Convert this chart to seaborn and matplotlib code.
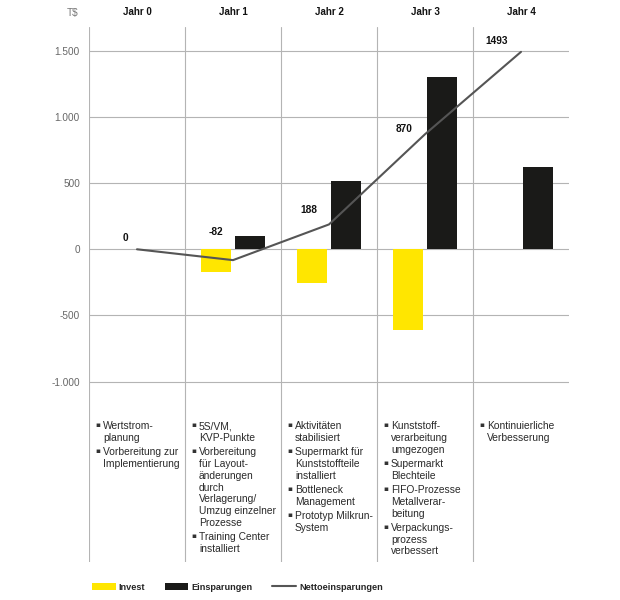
import numpy as np
import pandas as pd
import matplotlib
matplotlib.use("Agg")
import matplotlib.pyplot as plt
from matplotlib.patches import Patch
from matplotlib.lines import Line2D
import seaborn as sns

# ---------------- data ----------------
jahre = ["Jahr 0", "Jahr 1", "Jahr 2", "Jahr 3", "Jahr 4"]
invest = [np.nan, -172, -256, -611, np.nan]
einsparungen = [np.nan, 100, 517, 1300, 625]
netto = [0, -82, 188, 870, 1493]
netto_labels = ["0", "-82", "188", "870", "1493"]
y_ticks = [-1000, -500, 0, 500, 1000, 1500]
y_tick_labels = ["-1.000", "-500", "0", "500", "1.000", "1.500"]
einheit = "T$"
serien = ["Invest", "Einsparungen"]
linie_name = "Nettoeinsparungen"
massnahmen = [
    [["Wertstrom-", "planung"], ["Vorbereitung zur", "Implementierung"]],
    [["5S/VM,", "KVP-Punkte"],
     ["Vorbereitung", "für Layout-", "änderungen", "durch", "Verlagerung/",
      "Umzug einzelner", "Prozesse"],
     ["Training Center", "installiert"]],
    [["Aktivitäten", "stabilisiert"],
     ["Supermarkt für", "Kunststoffteile", "installiert"],
     ["Bottleneck", "Management"],
     ["Prototyp Milkrun-", "System"]],
    [["Kunststoff-", "verarbeitung", "umgezogen"],
     ["Supermarkt", "Blechteile"],
     ["FIFO-Prozesse", "Metallverar-", "beitung"],
     ["Verpackungs-", "prozess", "verbessert"]],
    [["Kontinuierliche", "Verbesserung"]],
]

# ---------------- style ----------------
sns.set_style("white")
plt.rcParams["font.family"] = ["Liberation Sans", "DejaVu Sans"]

YELLOW = "#FFE600"
BLACK = "#1A1A18"
LINE = "#555555"
GRID = "#b4b4b4"

df = pd.DataFrame({
    "Jahr": jahre * 2,
    "Typ": [serien[0]] * len(jahre) + [serien[1]] * len(jahre),
    "Wert": invest + einsparungen,
}).dropna()

W, H = 620, 600
fig = plt.figure(figsize=(6.2, 6.0), dpi=100)
ax = fig.add_axes([89 / W, 38 / H, 480 / W, 535 / H])

sns.barplot(data=df, x="Jahr", y="Wert", hue="Typ", order=jahre,
            hue_order=serien, palette=[YELLOW, BLACK], width=0.7, gap=0.1,
            saturation=1, legend=False, ax=ax, zorder=3, linewidth=0)

sns.lineplot(x=np.arange(len(jahre)), y=netto, color=LINE, linewidth=1.5,
             estimator=None, sort=False, ax=ax, zorder=4)

label_offsets = [(-8.6, 7.9), (-12, 20), (-14.4, 10.4), (-15, 3.8), (-17.3, 8)]
for i, (v, lab) in enumerate(zip(netto, netto_labels)):
    ax.annotate(lab, (i, v), xytext=label_offsets[i], textcoords="offset points",
                ha="center", va="center", fontsize=7.3, fontweight="bold",
                color="#111111", zorder=5)

ax.set_xlim(-0.5, 4.5)
ax.set_ylim(-2365, 1681)
ax.set_yticks(y_ticks)
ax.set_yticklabels(y_tick_labels)
ax.tick_params(axis="y", length=0, pad=6.5, labelsize=7.2, labelcolor="#666666")
ax.xaxis.tick_top()
ax.set_xticks(range(len(jahre)))
ax.set_xticklabels(jahre, fontweight="bold", fontsize=7.0, color="#111111")
ax.tick_params(axis="x", length=0, pad=7)
ax.set_xlabel("")
ax.set_ylabel("")
for s in ax.spines.values():
    s.set_visible(False)

ax.set_axisbelow(True)
ax.grid(axis="y", color=GRID, linewidth=0.8)
ax.grid(axis="x", visible=False)
for b in np.arange(len(jahre)) - 0.5:
    ax.axvline(b, color=GRID, linewidth=0.8, zorder=1)

fig.text(73 / W, 1 - 13 / H, einheit, ha="center", va="center",
         fontsize=7.2, color="#777777")

# bullet texts below the chart
step_pt = 11.8 * 0.72
gap_pt = 2.4 * 0.72
base_px = 429.3
trans = ax.get_xaxis_transform()
for ci, items in enumerate(massnahmen):
    y_off = 0.0
    for item in items:
        for li, line in enumerate(item):
            if li == 0:
                ax.annotate("▪", (ci - 0.5, 1 - (base_px - 27) / 535),
                            xycoords=trans, xytext=(9 * 0.72, -y_off + 1.3),
                            textcoords="offset points", ha="center",
                            va="baseline", fontsize=5.3, color="#333333",
                            family=["DejaVu Sans"])
            ax.annotate(line, (ci - 0.5, 1 - (base_px - 27) / 535),
                        xycoords=trans, xytext=(14 * 0.72, -y_off),
                        textcoords="offset points", ha="left", va="baseline",
                        fontsize=7.4, color="#2a2a2a")
            y_off += step_pt
        y_off += gap_pt

handles = [Patch(facecolor=YELLOW, edgecolor="none"),
           Patch(facecolor=BLACK, edgecolor="none"),
           Line2D([0], [0], color=LINE, linewidth=1.5)]
fig.legend(handles, serien + [linie_name], loc="center left",
           bbox_to_anchor=(91.7 / W, 1 - 587 / H), ncol=3, frameon=False,
           prop={"weight": "bold", "size": 6.6}, handlelength=2.6,
           handleheight=0.8, handletextpad=0.36, columnspacing=2.1,
           borderpad=0, borderaxespad=0)

fig.savefig("out.png", dpi=100)
